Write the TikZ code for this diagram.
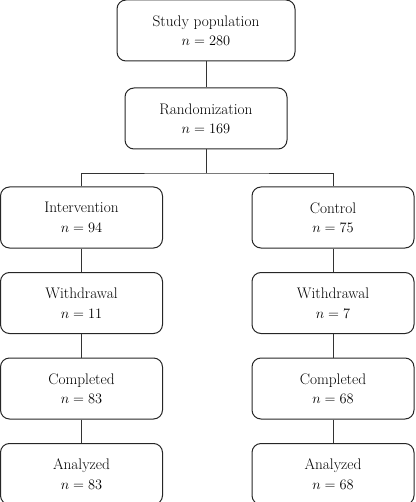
\documentclass[tikz,border=0pt]{standalone}
\usetikzlibrary{positioning}
\tikzset{
		>=stealth
	}

\begin{document}
\begin{tikzpicture}[x=1pt, y=-1pt, node distance=23.5pt,
				stage/.style={draw=black!85, rounded corners=9pt, line width=1pt, minimum width=162pt, minimum height=61pt, inner sep=0pt, align=center, font=\fontsize{15.3}{19.5}\selectfont},
				link/.style={draw=black!80, line width=0.9pt}]
		\useasboundingbox (0,0) rectangle (415,502);
		\node[stage, minimum width=178pt] (study) at (206,30.5) {Study population\\$n = 280$};
		\node[stage, below=26pt of study] (rand) {Randomization\\$n = 169$};
		% left arm
		\node[stage] (interv) at (81.5,217.5) {Intervention\\$n = 94$};
		\node[stage, below=of interv] (withL) {Withdrawal\\$n = 11$};
		\node[stage, below=of withL] (compL) {Completed\\$n = 83$};
		\node[stage, below=of compL] (analL) {Analyzed\\$n = 83$};
		% right arm
		\node[stage] (ctrl) at (333,217.5) {Control\\$n = 75$};
		\node[stage, below=of ctrl] (withR) {Withdrawal\\$n = 7$};
		\node[stage, below=of withR] (compR) {Completed\\$n = 68$};
		\node[stage, below=of compR] (analR) {Analyzed\\$n = 68$};
		\coordinate (split) at (206,173);
		\draw[link] (study) -- (rand);
		\draw[link] (rand) -- (split);
		\draw[link] (interv.north) |- (split) -| (ctrl.north);
		\draw[link] (interv) -- (withL);
		\draw[link] (withL) -- (compL);
		\draw[link] (compL) -- (analL);
		\draw[link] (ctrl) -- (withR);
		\draw[link] (withR) -- (compR);
		\draw[link] (compR) -- (analR);
	\end{tikzpicture}
\end{document}
